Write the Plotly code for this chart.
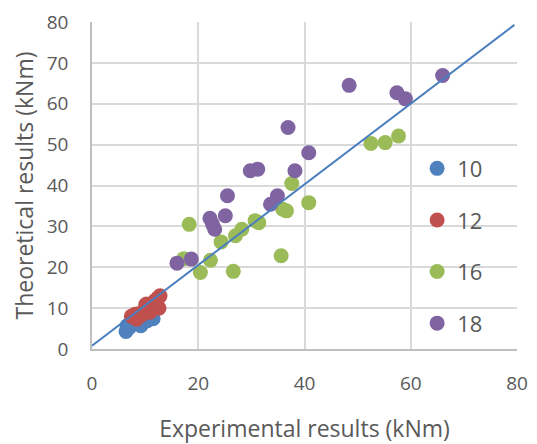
import plotly.graph_objects as go

# Series data (Experimental x, Theoretical y), in kNm
x10 = [6.4, 6.6, 7.0, 8.4, 9.2, 10.4, 11.1, 11.5]
y10 = [4.3, 5.7, 5.2, 6.5, 5.7, 6.9, 7.6, 7.4]

x12 = [7.4, 7.7, 8.1, 8.4, 8.9, 9.0, 9.7, 10.1, 10.3, 10.9, 11.2, 11.9, 12.0, 12.2, 12.5, 12.6, 12.8]
y12 = [8.0, 7.9, 8.5, 7.3, 8.7, 8.1, 8.6, 10.8, 11.0, 9.0, 9.8, 11.8, 12.0, 11.0, 12.6, 10.0, 13.0]

x16 = [57.7, 55.2, 52.5, 37.6, 40.8, 36.6, 35.9, 31.4, 30.7, 28.2, 27.0, 24.3, 18.3, 17.3, 22.3, 20.4, 26.6, 35.6]
y16 = [52.1, 50.5, 50.3, 40.5, 35.8, 33.8, 34.2, 30.9, 31.4, 29.3, 27.7, 26.2, 30.5, 22.1, 21.7, 18.7, 19.0, 22.8]

x18 = [66.0, 48.4, 57.4, 59.0, 36.9, 40.8, 29.8, 31.2, 38.2, 25.5, 34.9, 33.6, 25.1, 22.2, 22.7, 23.1, 16.0, 18.7]
y18 = [66.9, 64.5, 62.7, 61.2, 54.2, 48.0, 43.6, 44.0, 43.6, 37.5, 37.5, 35.4, 32.6, 32.0, 30.5, 29.3, 21.0, 22.0]

line_x = [0, 79.5]
line_y = [0.8, 79.3]

series = [
    ("10", x10, y10, "#4F81BD"),
    ("12", x12, y12, "#C0504D"),
    ("16", x16, y16, "#9BBB59"),
    ("18", x18, y18, "#8064A2"),
]

fig = go.Figure()
for name, xs, ys, col in series:
    fig.add_trace(go.Scatter(
        x=xs, y=ys, mode="markers", name=name, legendgroup=name,
        marker=dict(size=15, color=col, line=dict(width=0)),
    ))

fig.add_trace(go.Scatter(
    x=line_x, y=line_y, mode="lines", showlegend=False,
    line=dict(color="#4A7EBF", width=2),
))

font_family = "Open Sans, Noto Sans, sans-serif"
text_col = "#595959"

# The page body has an 8 px margin, so the figure is offset by 8 px.
fig.update_layout(
    width=529, height=436,
    margin=dict(l=84, r=20, t=14, b=95),
    paper_bgcolor="white", plot_bgcolor="white",
    font=dict(family=font_family, color=text_col, size=19),
    showlegend=True,
    legend=dict(
        x=0.765, y=0.616, xanchor="left", yanchor="top",
        bgcolor="rgba(0,0,0,0)",
        font=dict(size=22, color=text_col),
        tracegroupgap=20,
        itemwidth=30,
    ),
    xaxis=dict(
        range=[0, 80], tickvals=[0, 20, 40, 60, 80], automargin=False,
        showgrid=True, gridcolor="#D9D9D9", gridwidth=1.5,
        zeroline=False, showline=True, linecolor="#BFBFBF", linewidth=1.5,
        ticks="", ticklabelstandoff=16, ticklabeloverflow="allow",
        tickfont=dict(size=19, color=text_col),
        title=dict(text="Experimental results (kNm)", font=dict(size=23, color=text_col), standoff=30),
    ),
    yaxis=dict(
        range=[0, 80], tickvals=[0, 10, 20, 30, 40, 50, 60, 70, 80], automargin=False,
        showgrid=True, gridcolor="#D9D9D9", gridwidth=1.5,
        zeroline=False, showline=True, linecolor="#BFBFBF", linewidth=1.5,
        ticks="", ticklabelstandoff=18,
        tickfont=dict(size=19, color=text_col),
        title=dict(text="Theoretical results (kNm)", font=dict(size=23, color=text_col), standoff=7),
    ),
)

fig.write_html("out.html")
